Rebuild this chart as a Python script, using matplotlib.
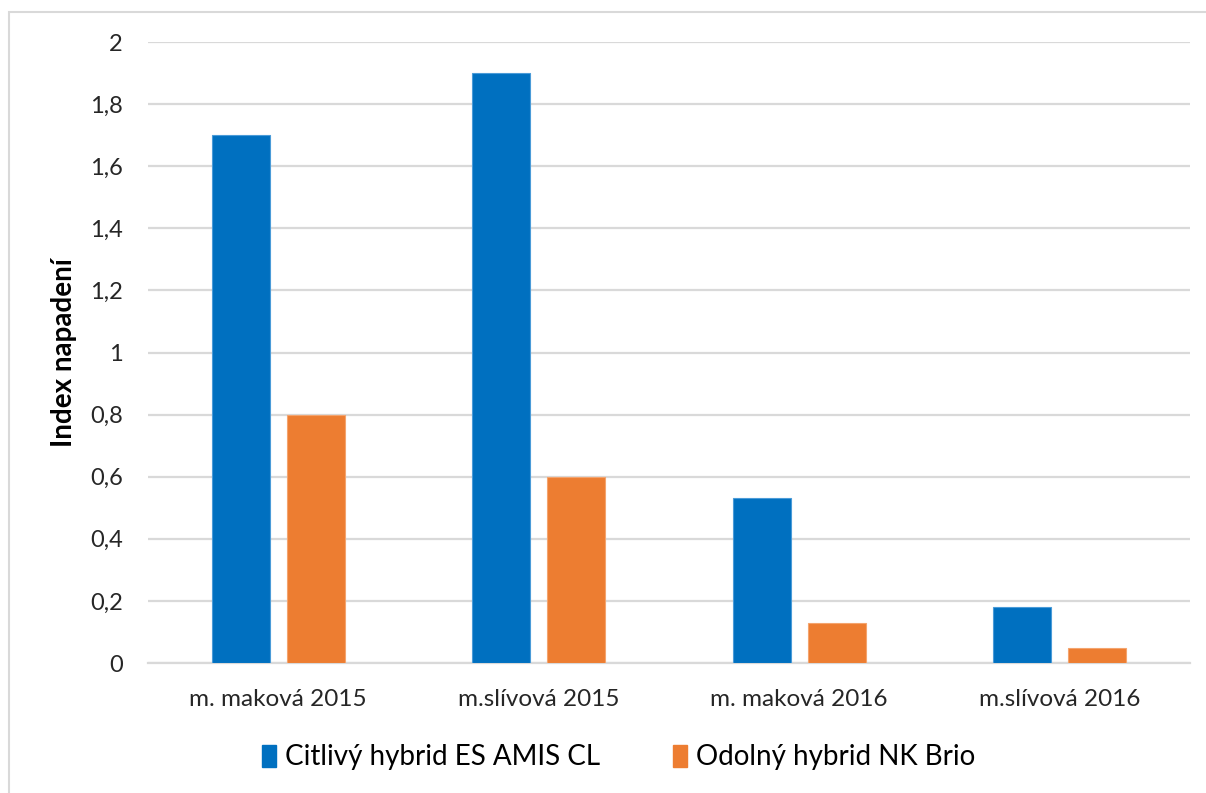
import numpy as np
import matplotlib
matplotlib.use("Agg")
import matplotlib.pyplot as plt
from matplotlib.patches import Rectangle
from matplotlib.ticker import FuncFormatter

plt.rcParams["font.family"] = ["Lato", "DejaVu Sans"]

# data
categories = ["m. maková 2015", "m.slívová 2015", "m. maková 2016", "m.slívová 2016"]
citlivy = [1.7, 1.9, 0.53, 0.18]
odolny = [0.8, 0.6, 0.13, 0.05]
series_names = ["Citlivý hybrid ES AMIS CL", "Odolný hybrid NK Brio"]

BLUE = "#0070C0"
ORANGE = "#ED7D31"
GRID = "#D9D9D9"
TEXT = "#262626"

fig = plt.figure(figsize=(12.06, 7.93), dpi=100)
ax = fig.add_axes([0.1227, 0.1639, 0.8640, 0.7831])

x = np.arange(len(categories))
w = 0.2227
off = 0.144
ax.bar(x - off, citlivy, width=w, color=BLUE, edgecolor="#4A9BD8", linewidth=0.8,
       label=series_names[0], zorder=3)
ax.bar(x + off, odolny, width=w, color=ORANGE, edgecolor="#F4A46E", linewidth=0.8,
       label=series_names[1], zorder=3)

ax.set_xlim(-0.5, len(categories) - 0.5)
ax.set_ylim(0, 2)
ax.set_yticks(np.arange(0, 2.01, 0.2))
ax.yaxis.set_major_formatter(FuncFormatter(lambda v, p: f"{v:g}".replace(".", ",")))
ax.grid(axis="y", color=GRID, linewidth=1.6, zorder=0)
ax.set_xticks(x)
ax.set_xticklabels(categories)

for s in ["top", "right", "left"]:
    ax.spines[s].set_visible(False)
ax.spines["bottom"].set_color(GRID)
ax.spines["bottom"].set_linewidth(1.6)

ax.tick_params(axis="y", length=0, pad=18, labelsize=17, labelcolor=TEXT)
ax.tick_params(axis="x", length=0, pad=19, labelsize=17.5, labelcolor=TEXT)

ax.set_ylabel("Index napadení", fontsize=20, fontweight="bold", color="black")
ax.yaxis.set_label_coords(-0.068, 0.5)

handles = [Rectangle((0, 0), 1, 1, color=BLUE), Rectangle((0, 0), 1, 1, color=ORANGE)]
fig.legend(handles, series_names, loc="center", bbox_to_anchor=(0.513, 0.045), ncol=2,
           frameon=False, fontsize=20, handlelength=0.5, handleheight=0.85,
           handletextpad=0.35, columnspacing=2.6, labelcolor="black")

# chart border
fig.add_artist(Rectangle((9 / 1206, -0.05), 1.1, 1 - 12 / 793 + 0.05,
                         transform=fig.transFigure, fill=False,
                         edgecolor="#D9D9D9", linewidth=1.5))

plt.savefig("out.png", dpi=100)
